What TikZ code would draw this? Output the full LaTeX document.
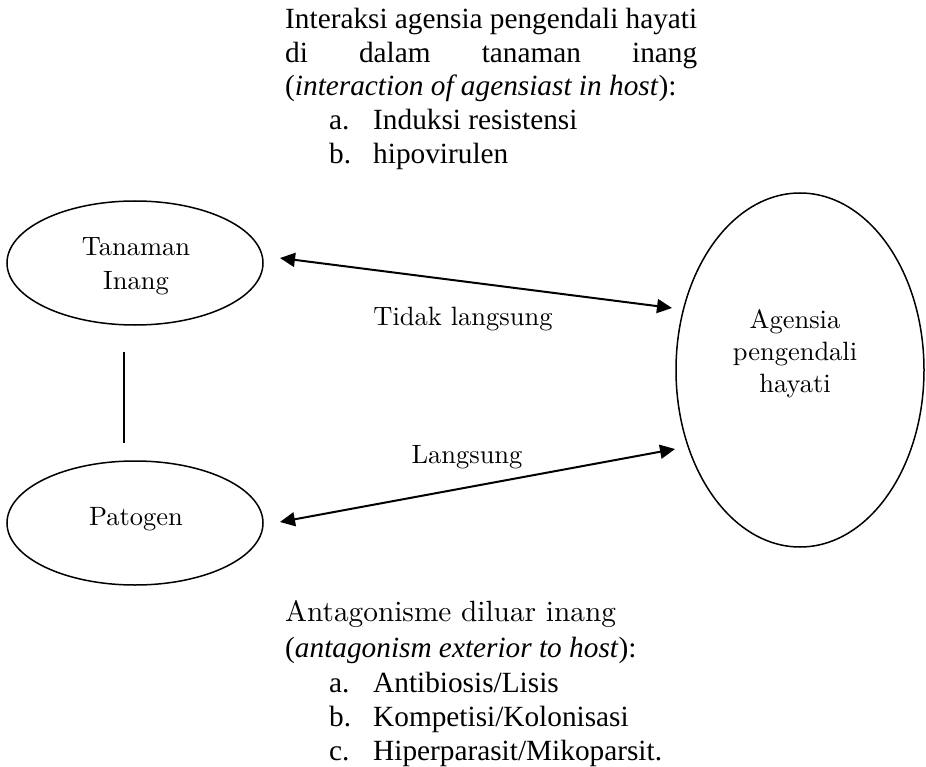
\documentclass[tikz,border=0pt]{standalone}
\usepackage{fontspec}
\newfontfamily\tnr{Liberation Serif}
\newfontfamily\lmten[Extension=.otf]{lmroman10-regular}
\usetikzlibrary{shapes.geometric,arrows.meta}
\begin{document}
\begin{tikzpicture}[x=1pt,y=-1pt,
  ell/.style={draw,ellipse,line width=1.5pt,inner sep=0pt},
  lbl/.style={font=\lmten\fontsize{26.5}{33}\selectfont,inner sep=0pt,anchor=base},
  tnrtext/.style={font=\tnr\fontsize{29.3}{33.75}\selectfont,inner sep=0pt,anchor=base west},
  bigpal/.style={font=\lmten\fontsize{29.3}{35}\selectfont,inner sep=0pt,anchor=base west},
  arr/.style={{Triangle[length=15pt,width=14pt]}-{Triangle[length=15pt,width=14pt]},line width=2pt},
  conn/.style={line width=2pt}]
\path[use as bounding box] (0,0) rectangle (926,767);
% ellipses
\node[ell,minimum width=256pt,minimum height=124pt] (T) at (135,263) {};
\node[ell,minimum width=256pt,minimum height=124pt] (P) at (135,523) {};
\node[ell,minimum width=248pt,minimum height=354pt] (A) at (800,370) {};
% labels inside
\node[lbl] (t1) at (136,256) {Tanaman};
\node[lbl] (t2) at (136,290) {Inang};
\node[lbl] (p1) at (136,525) {Patogen};
\node[lbl] (a1) at (795,328) {Agensia};
\node[lbl] (a2) at (795,360) {pengendali};
\node[lbl] (a3) at (795,392) {hayati};
\node[lbl] (l1) at (463,325) {Tidak langsung};
\node[lbl] (l2) at (467,463) {Langsung};
% connectors
\coordinate (u1) at (280,258); \coordinate (u2) at (672,308);
\coordinate (d1) at (280,522); \coordinate (d2) at (675,449);
\coordinate (v1) at (124,352); \coordinate (v2) at (124,443);
\draw[arr] (u1) -- (u2);
\draw[arr] (d1) -- (d2);
\draw[conn] (v1) -- (v2);
% top text
\node[tnrtext] (i1) at (285,28.5) {\makebox[412pt][s]{Interaksi agensia pengendali hayati}};
\node[tnrtext] (i2) at (285,62.25) {\makebox[412pt][s]{di dalam tanaman inang}};
\node[tnrtext] (i3) at (285,96) {(\textit{interaction of agensiast in host}):};
\node[tnrtext] (i4a) at (329,129.75) {a.};
\node[tnrtext] (i4) at (373,129.75) {Induksi resistensi};
\node[tnrtext] (i5a) at (329,163.5) {b.};
\node[tnrtext] (i5) at (373,163.5) {hipovirulen};
% bottom text
\node[bigpal] (b1) at (285,621) {Antagonisme diluar inang};
\node[tnrtext] (b2) at (285,657) {(\textit{antagonism exterior to host}):};
\node[tnrtext] (b3a) at (329,692) {a.};
\node[tnrtext] (b3) at (373,692) {Antibiosis/Lisis};
\node[tnrtext] (b4a) at (329,726) {b.};
\node[tnrtext] (b4) at (373,726) {Kompetisi/Kolonisasi};
\node[tnrtext] (b5a) at (329,760) {c.};
\node[tnrtext] (b5) at (373,760) {Hiperparasit/Mikoparsit.};
\end{tikzpicture}
\end{document}
